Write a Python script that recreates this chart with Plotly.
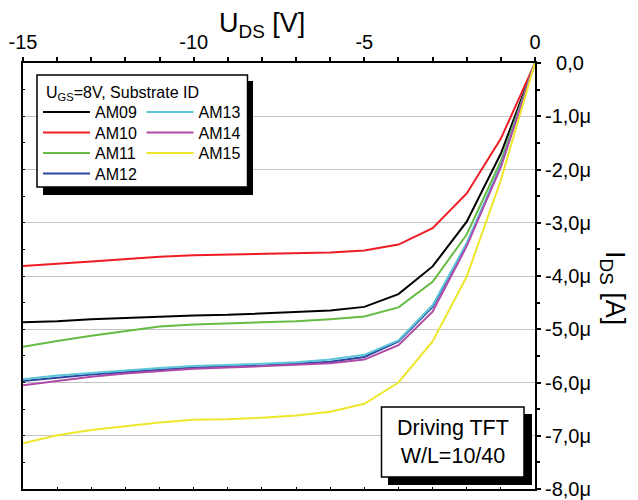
import plotly.graph_objects as go

# ---- data (I_DS in microamps, negative values) ----
uds = [0, -1, -2, -3, -4, -5, -6, -7, -8, -9, -10, -11, -12, -13, -14, -15]
am09 = [0, 1.70, 2.98, 3.82, 4.34, 4.58, 4.65, 4.68, 4.70, 4.73, 4.74, 4.76, 4.79, 4.81, 4.85, 4.87]
am10 = [0, 1.42, 2.45, 3.10, 3.41, 3.52, 3.56, 3.57, 3.59, 3.60, 3.61, 3.64, 3.69, 3.73, 3.77, 3.81]
am11 = [0, 1.84, 3.22, 4.11, 4.59, 4.76, 4.81, 4.85, 4.87, 4.89, 4.91, 4.95, 5.03, 5.12, 5.22, 5.33]
am12 = [0, 1.93, 3.40, 4.58, 5.23, 5.52, 5.61, 5.65, 5.68, 5.70, 5.72, 5.76, 5.80, 5.85, 5.91, 5.97]
am13 = [0, 1.92, 3.38, 4.55, 5.21, 5.48, 5.57, 5.62, 5.65, 5.67, 5.69, 5.73, 5.77, 5.82, 5.87, 5.94]
am14 = [0, 1.95, 3.44, 4.67, 5.30, 5.57, 5.64, 5.67, 5.70, 5.72, 5.74, 5.78, 5.83, 5.89, 5.97, 6.05]
am15 = [0, 2.20, 4.01, 5.23, 6.00, 6.40, 6.55, 6.62, 6.66, 6.69, 6.70, 6.75, 6.82, 6.89, 6.99, 7.14]

series_names = ["AM09", "AM10", "AM11", "AM12", "AM13", "AM14", "AM15"]
series_vals = [am09, am10, am11, am12, am13, am14, am15]
colors = ["#000000", "#ee1c24", "#66bb44", "#2b46a0", "#5cc6d8", "#b04aa8", "#eee62c"]

x_ticks = [-15, -10, -5, 0]
y_tick_vals_u = [0, -1, -2, -3, -4, -5, -6, -7, -8]
y_tick_text = ["\u00a0\u00a00,0", "-1,0μ", "-2,0μ", "-3,0μ", "-4,0μ", "-5,0μ", "-6,0μ", "-7,0μ", "-8,0μ"]

FONT = "Liberation Sans, Arial, sans-serif"
W, H = 638, 500
OFF = 8  # page body offset of the figure inside the window
# plot area in window pixels
PL, PR, PT, PB = 23, 535, 63, 489
PW, PH = PR - PL, PB - PT


def px(xp):
    return (xp - PL) / PW


def py(yp):
    return 1 - (yp - PT) / PH


# legend entry slots (column-major, 2 columns): (left px, row-centre px)
col_x = [38, 141.5]
row_y = [112, 132.5, 153, 173.5]
slots = [(col_x[0], row_y[0]), (col_x[0], row_y[1]), (col_x[0], row_y[2]), (col_x[0], row_y[3]),
         (col_x[1], row_y[0]), (col_x[1], row_y[1]), (col_x[1], row_y[2])]

fig = go.Figure()
legend_layouts = {}
for i, (name, vals, col) in enumerate(zip(series_names, series_vals, colors)):
    lid = "legend" if i == 0 else f"legend{i + 1}"
    fig.add_trace(go.Scatter(
        x=uds, y=[-v * 1e-6 for v in vals], mode="lines", name=name,
        line=dict(color=col, width=2), legend=lid, showlegend=True,
    ))
    lx, ly = slots[i]
    legend_layouts[lid] = dict(
        x=px(lx), y=py(ly), xanchor="left", yanchor="middle",
        bgcolor="rgba(0,0,0,0)", borderwidth=0, itemwidth=47,
        font=dict(size=16, family=FONT, color="black"),
    )
# empty trace to show the top/right labelled axes
fig.add_trace(go.Scatter(x=[], y=[], xaxis="x2", yaxis="y2", showlegend=False))

yr = [-8e-6, 0]
xr = [-15, 0]
fig.update_layout(
    width=W, height=H, showlegend=True,
    margin=dict(l=PL - OFF, r=W - (PR - OFF), t=PT - OFF, b=H - (PB - OFF)),
    paper_bgcolor="white", plot_bgcolor="white",
    font=dict(family=FONT, color="black"),
    xaxis=dict(range=xr, showline=True, linecolor="black", linewidth=2,
               ticks="inside", ticklen=2, tickcolor="black", dtick=1, automargin=False,
               showticklabels=False, showgrid=False, zeroline=False),
    yaxis=dict(range=yr, showline=True, linecolor="black", linewidth=2,
               ticks="inside", ticklen=2, tickcolor="black", automargin=False,
               tickvals=[v * 1e-6 for v in y_tick_vals_u],
               minor=dict(dtick=0.5e-6, ticks="inside", ticklen=2, tickcolor="black", showgrid=False),
               showticklabels=False, showgrid=True, gridcolor="#c4c4c4", gridwidth=1,
               zeroline=False),
    xaxis2=dict(range=xr, overlaying="x", side="top", anchor="y", showline=True,
                linecolor="black", linewidth=2, ticks="outside", ticklen=4, tickwidth=1.5,
                tickcolor="black", tickvals=x_ticks, ticktext=[str(v) for v in x_ticks],
                minor=dict(dtick=1, ticks="outside", ticklen=4, tickwidth=1.5, tickcolor="black"),
                tickfont=dict(size=20, family=FONT), showgrid=False, zeroline=False,
                automargin=False),
    yaxis2=dict(range=yr, overlaying="y", side="right", anchor="x", showline=True,
                linecolor="black", linewidth=2, ticks="outside", ticklen=4, tickwidth=1.5,
                tickcolor="black", tickvals=[v * 1e-6 for v in y_tick_vals_u],
                ticktext=y_tick_text,
                minor=dict(dtick=0.5e-6, ticks="outside", ticklen=3, tickwidth=1.5, tickcolor="black"),
                tickfont=dict(size=20, family=FONT), showgrid=False, zeroline=False,
                automargin=False),
    shapes=[
        # legend shadow + box
        dict(type="rect", xref="paper", yref="paper", x0=px(43), x1=px(253), y0=py(195), y1=py(81),
             fillcolor="black", line=dict(width=0), layer="above"),
        dict(type="rect", xref="paper", yref="paper", x0=px(37), x1=px(247.5), y0=py(187), y1=py(75),
             fillcolor="white", line=dict(color="black", width=1.5), layer="above"),
        # info box shadow + box
        dict(type="rect", xref="paper", yref="paper", x0=px(388), x1=px(532), y0=py(485), y1=py(414),
             fillcolor="black", line=dict(width=0), layer="above"),
        dict(type="rect", xref="paper", yref="paper", x0=px(381.5), x1=px(524), y0=py(477), y1=py(407),
             fillcolor="white", line=dict(color="black", width=1.5), layer="above"),
    ],
    annotations=[
        dict(text="U<sub>GS</sub>=8V, Substrate ID", xref="paper", yref="paper", x=px(44), y=py(93),
             xanchor="left", yanchor="middle", showarrow=False,
             font=dict(size=16, family=FONT, color="black")),
        dict(text="Driving TFT<br>W/L=10/40", xref="paper", yref="paper", x=px(453), y=py(442),
             xanchor="center", yanchor="middle", showarrow=False,
             font=dict(size=21.5, family=FONT, color="black")),
        dict(text="U<sub>DS</sub> [V]", xref="paper", yref="paper", x=px(262), y=py(25),
             xanchor="center", yanchor="middle", showarrow=False,
             font=dict(size=27, family=FONT, color="black")),
        dict(text="I<sub>DS</sub> [A]", xref="paper", yref="paper", x=px(613), y=py(288),
             xanchor="center", yanchor="middle", showarrow=False, textangle=90,
             font=dict(size=27, family=FONT, color="black")),
    ],
)
fig.update_layout(**legend_layouts)

fig.write_html("out.html")
